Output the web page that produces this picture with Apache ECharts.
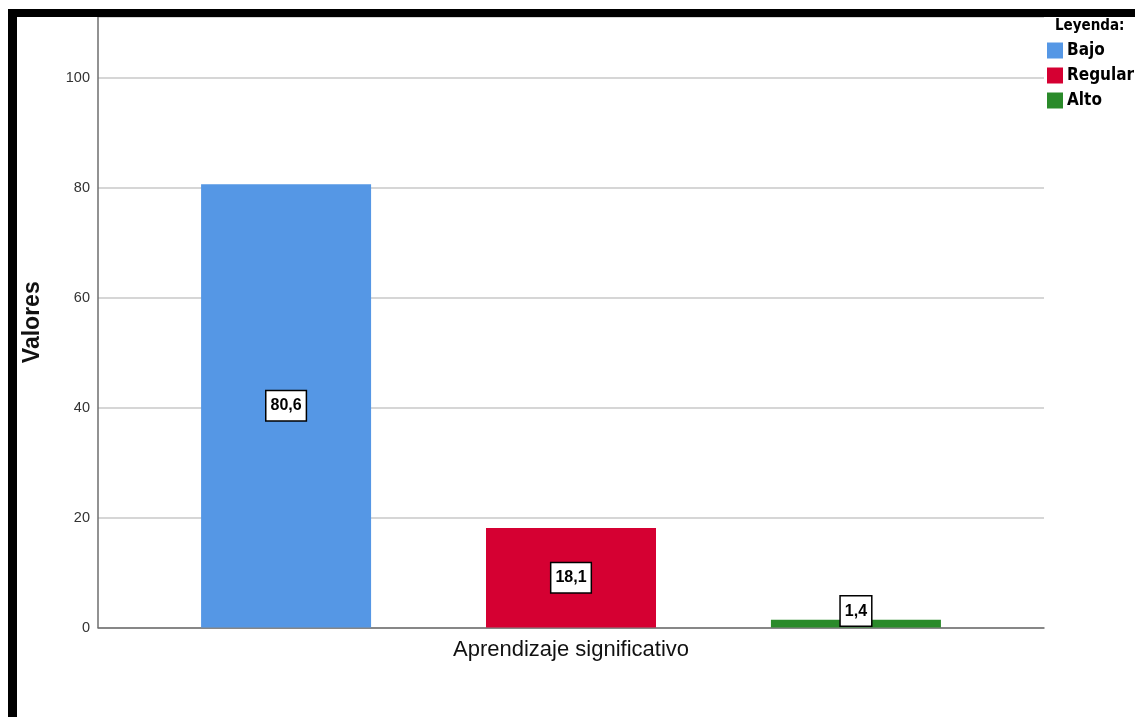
<!DOCTYPE html>
<html>
<head>
<meta charset="utf-8">
<script src="https://cdn.jsdelivr.net/npm/echarts@6/dist/echarts.min.js"></script>
<style>
  html, body { margin: 0; padding: 0; background: #fff; }
  #chart { width: 1135px; height: 717px; }
</style>
</head>
<body>
<div id="chart"></div>
<script>
// Chart data
const categories = ['Aprendizaje significativo'];
const seriesNames = ['Bajo', 'Regular', 'Alto'];
const values = [80.6, 18.1, 1.4];
const colors = ['#5597e5', '#d50032', '#2a8a2a'];
const yTicks = [0, 20, 40, 60, 80, 100];

const narrow = "'DejaVu Sans Condensed', 'Liberation Sans', Arial, sans-serif";
const sans = "'Liberation Sans', Arial, sans-serif";

const chart = echarts.init(document.getElementById('chart'), null, { renderer: 'canvas' });

// One bar per level, grouped inside the single category
const series = seriesNames.map((name, i) => ({
  name: name,
  type: 'bar',
  data: [values[i]],
  barWidth: 170,
  barGap: '67.6%',
  itemStyle: { color: colors[i] },
  label: {
    show: true,
    position: values[i] < 5 ? 'insideBottom' : 'inside',
    distance: 2,
    formatter: p => String(p.value).replace('.', ','),
    color: '#000',
    fontFamily: sans,
    fontWeight: 'bold',
    fontSize: 16,
    lineHeight: 16,
    backgroundColor: '#fff',
    borderColor: '#000',
    borderWidth: 1.5,
    padding: [7, 4, 6, 4]
  }
}));

chart.setOption({
  animation: false,
  backgroundColor: '#fff',
  title: {
    text: 'Leyenda:',
    left: 1055,
    top: 19,
    padding: 0,
    textStyle: { fontFamily: narrow, fontWeight: 'bold', fontSize: 15, color: '#000' }
  },
  legend: {
    data: seriesNames,
    orient: 'vertical',
    left: 1047,
    top: 42,
    padding: 0,
    itemWidth: 16,
    itemHeight: 16,
    itemGap: 8,
    icon: 'rect',
    textStyle: { fontFamily: narrow, fontWeight: 'bold', fontSize: 17, color: '#000', padding: [0, 0, 0, -1] }
  },
  grid: { left: 98, top: 17, right: 91, bottom: 89.5, containLabel: false },
  xAxis: {
    type: 'category',
    data: categories,
    axisLine: { show: true, lineStyle: { color: '#6e6e6e', width: 1.5 } },
    axisTick: { show: false },
    axisLabel: { margin: 11, fontFamily: sans, fontSize: 22, color: '#111' }
  },
  yAxis: {
    type: 'value',
    min: 0,
    max: 111,
    interval: 20,
    name: 'Valores',
    nameLocation: 'middle',
    nameGap: 54,
    nameTextStyle: { fontFamily: sans, fontWeight: 'bold', fontSize: 23, color: '#111' },
    axisLine: { show: true, lineStyle: { color: '#6e6e6e', width: 1.5 } },
    axisTick: { show: false },
    axisLabel: {
      margin: 8,
      fontFamily: sans,
      fontSize: 14.5,
      color: '#333',
      formatter: v => (yTicks.indexOf(v) >= 0 ? String(v) : '')
    },
    splitLine: { show: true, lineStyle: { color: '#c8c8c8', width: 1.5 } }
  },
  series: series,
  graphic: [
    { type: 'rect', z: 100, shape: { x: 8, y: 9, width: 1127, height: 8 }, style: { fill: '#000' } },
    { type: 'rect', z: 100, shape: { x: 8, y: 9, width: 9, height: 708 }, style: { fill: '#000' } }
  ]
});
</script>
</body>
</html>
